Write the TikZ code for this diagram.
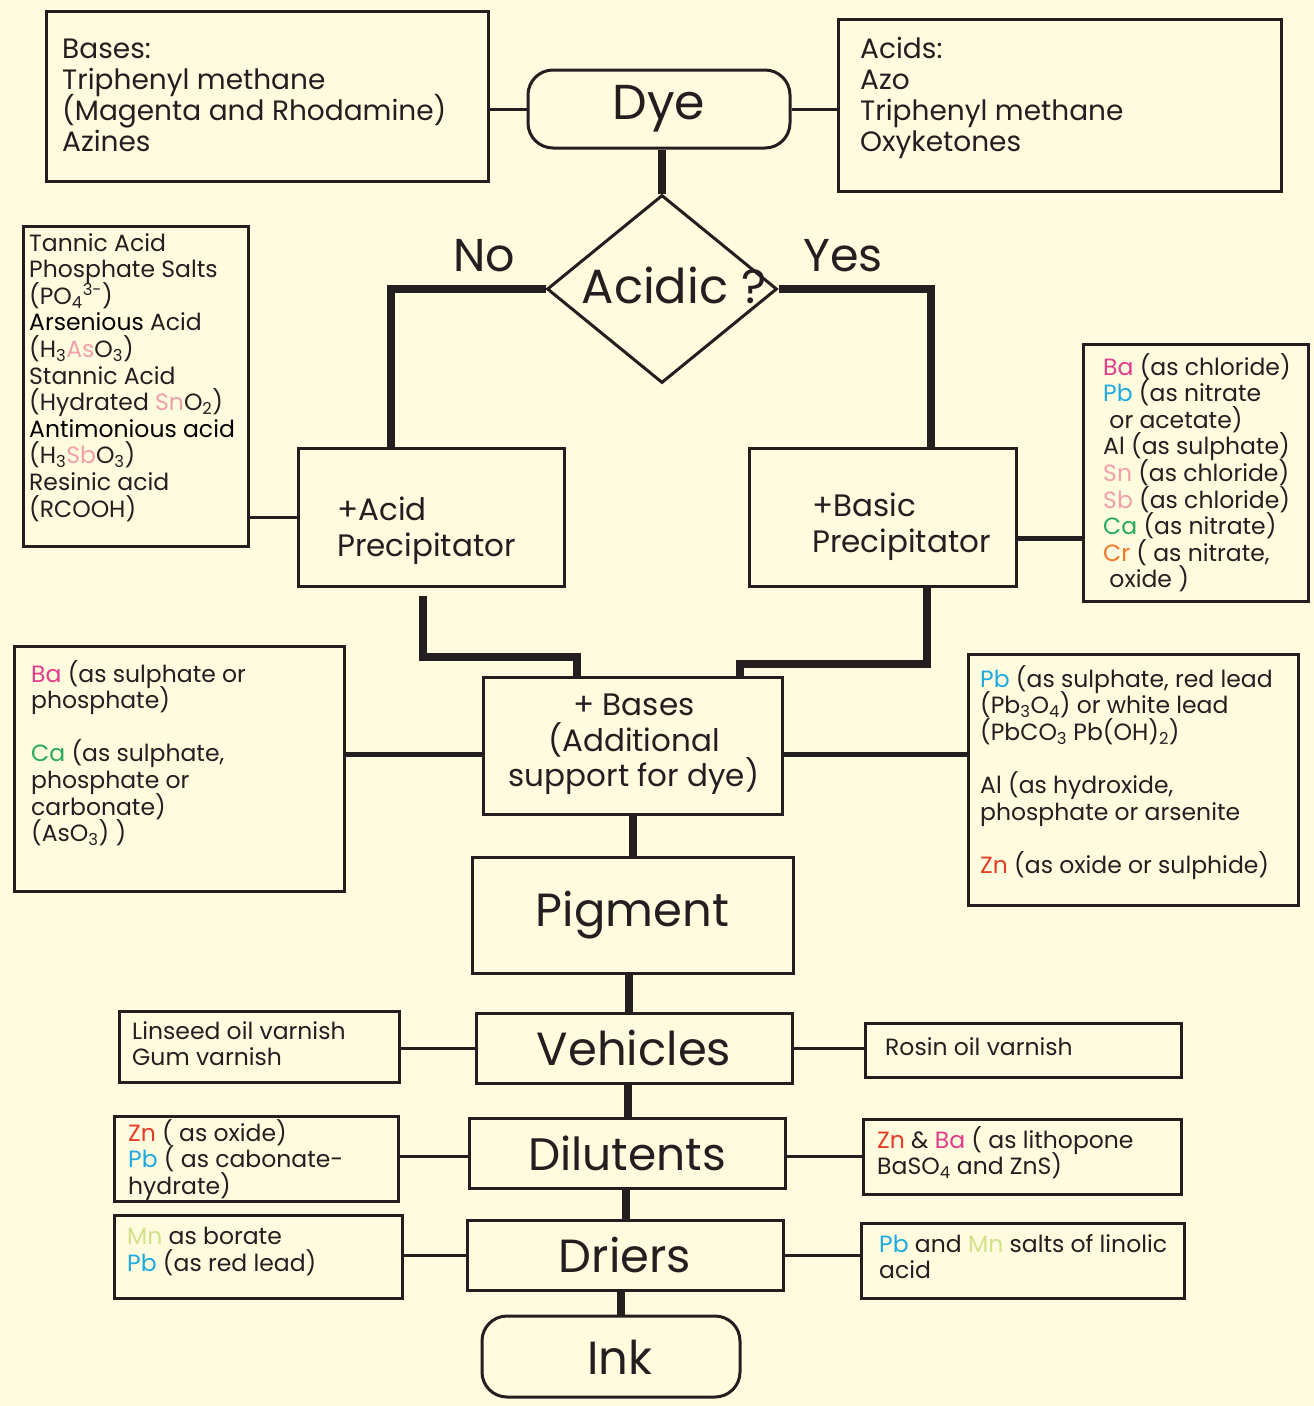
\documentclass[tikz,border=0pt]{standalone}
\usepackage{fontspec}
\setmainfont{Poppins}
\usetikzlibrary{shapes.geometric}
\definecolor{bg}{RGB}{254,251,222}
\definecolor{txt}{RGB}{35,31,32}
\definecolor{cBa}{RGB}{226,60,140}
\definecolor{cPb}{RGB}{30,170,225}
\definecolor{cSn}{RGB}{240,160,170}
\definecolor{cCa}{RGB}{40,170,90}
\definecolor{cCr}{RGB}{240,120,40}
\definecolor{cZn}{RGB}{230,60,40}
\definecolor{cMn}{RGB}{210,225,140}
\newcommand\sbs[1]{\textsubscript{#1}}
\newcommand\sps[1]{\textsuperscript{#1}}
\newcommand\cl[2]{{\color{#1}#2}}
\newcommand\mybox[5]{\node[bx, anchor=north west, minimum width={#3-#1}, minimum height={#4-#2}] (#5) at (#1,#2) {};}
\lineskiplimit=-100pt
\begin{document}
\begin{tikzpicture}[x=1pt,y=-1pt,
  bx/.style={draw=txt, line width=3pt, rectangle, inner sep=0pt},
  lt/.style={text=txt, align=left, inner sep=0pt, font=\fontsize{23.5}{26.6}\selectfont},
  ltop/.style={lt, font=\fontsize{28}{31}\selectfont},
  mid/.style={text=txt, inner sep=0pt, font=\fontsize{31}{35.5}\selectfont},
  big/.style={bx, text=txt, font=\fontsize{46.5}{46.5}\selectfont},
  cthin/.style={draw=txt, line width=3pt},
  cmid/.style={draw=txt, line width=5pt},
  cthick/.style={draw=txt, line width=8pt},
  lbl/.style={text=txt, inner sep=0pt, font=\fontsize{46}{46}\selectfont}]
\useasboundingbox[fill=bg] (0,0) rectangle (1314,1406);

% top row
\mybox{45}{10}{487}{180}{basesbox}
\node[ltop, anchor=north west] (basestxt) at (62,39) {Bases:\\Triphenyl methane\\(Magenta and Rhodamine)\\Azines};
\node[big, rounded corners=25pt, minimum width=262, minimum height=78, font=\fontsize{49}{49}\selectfont] (dye) at (659,109) {Dye};
\mybox{837}{18}{1280}{190}{acidsbox}
\node[ltop, anchor=north west] (acidstxt) at (860,37) {Acids:\\Azo\\Triphenyl methane\\Oxyketones};
\draw[cthin] (dye.west) -- (dye.west -| basesbox.east);
\draw[cthin] (dye.east) -- (dye.east -| acidsbox.west);

% decision
\node[draw=txt, line width=3pt, diamond, minimum width=230, minimum height=188, inner sep=0pt] (dia) at (662,289) {};
\node[lbl, font=\fontsize{48}{48}\selectfont] (diatxt) at (674,285) {Acidic ?};
\draw[cthick] (dia.north |- dye.south) -- (dia.north);
\node[lbl] (no) at (484,256) {No};
\node[lbl] (yes) at (843,256) {Yes};

% precipitators
\mybox{297}{447}{563}{585}{ap}
\node[mid, align=left, anchor=north west] (aptxt) at (337,497) {+Acid\\Precipitator};
\mybox{748}{447}{1015}{585}{bp}
\node[mid, align=left, anchor=north west] (bptxt) at (812,493) {+Basic\\Precipitator};
\coordinate (noX) at (391,289);
\coordinate (yesX) at (931,289);
\draw[cthick] (dia.west) -- (noX) -- (noX |- ap.north);
\draw[cthick] (dia.east) -- (yesX) -- (yesX |- bp.north);

% acid list
\mybox{22}{225}{247}{545}{al}
\node[lt, anchor=north west] (altxt) at (29,233) {Tannic Acid\\Phosphate Salts\\(PO\sbs{4}\sps{3-})\\\textcolor{black}{Arsenious} Acid\\(H\sbs{3}\cl{cSn}{As}O\sbs{3})\\Stannic Acid\\(Hydrated \cl{cSn}{Sn}O\sbs{2})\\\textcolor{black}{Antimonious acid}\\(H\sbs{3}\cl{cSn}{Sb}O\sbs{3})\\Resinic acid\\(RCOOH)};
\draw[cthin] (ap.west) -- (ap.west -| al.east);

% basic list
\mybox{1082}{343}{1307}{600}{bl}
\node[lt, anchor=north west] (bltxt) at (1103,353) {\cl{cBa}{Ba} (as chloride)\\\cl{cPb}{Pb} (as nitrate\\\ or acetate)\\Al (as sulphate)\\\cl{cSn}{Sn} (as chloride)\\\cl{cSn}{Sb} (as chloride)\\\cl{cCa}{Ca} (as nitrate)\\\cl{cCr}{Cr} ( as nitrate,\\\ oxide )};
\draw[cmid] ([yshift=-21pt]bp.east) -- ([yshift=-21pt]bp.east -| bl.west);

% bases
\mybox{482}{676}{781}{813}{bs}
\node[mid, align=center, anchor=north] (bstxt) at (634,694) {+ Bases\\(Additional\\support for dye)};
\coordinate (jL) at (577,657);
\coordinate (jR) at (740,664);
\draw[cthick] ([shift={(-9,8)}]ap.south) |- (jL) -- (jL |- bs.north);
\draw[cthick] ([xshift=43.5pt]bp.south) |- (jR) -- (jR |- bs.north);

\mybox{13}{645}{343}{890}{lb}
\node[lt, anchor=north west] (lbtxt) at (31,660) {\cl{cBa}{Ba} (as sulphate or\\phosphate)\\[26.6pt]\cl{cCa}{Ca} (as sulphate,\\phosphate or\\carbonate)\\(AsO\sbs{3}) )};
\mybox{967}{653}{1297}{904}{rb}
\node[lt, anchor=north west] (rbtxt) at (980,665) {\cl{cPb}{Pb} (as sulphate, red lead\\(Pb\sbs{3}O\sbs{4}) or white lead\\(PbCO\sbs{3} Pb(OH)\sbs{2})\\[26.6pt]Al (as hydroxide,\\phosphate or arsenite\\[26.6pt]\cl{cZn}{Zn} (as oxide or sulphide)};
\draw[cmid] ([yshift=-8.5pt]bs.west) -- ([yshift=-8.5pt]bs.west -| lb.east);
\draw[cmid] ([yshift=-8.5pt]bs.east) -- ([yshift=-8.5pt]bs.east -| rb.west);

% main column
\node[big, minimum width=321, minimum height=116] (pig) at (632.5,915) {Pigment};
\node[big, minimum width=316, minimum height=70] (veh) at (634,1048) {Vehicles};
\node[big, minimum width=316, minimum height=70, font=\fontsize{45.5}{45.5}\selectfont] (dil) at (627,1153) {Dilutents};
\node[big, minimum width=316, minimum height=70] (dri) at (625,1255) {Driers};
\node[bx, rounded corners=25pt, minimum width=258, minimum height=81] (ink) at (611,1356.5) {};
\node[lbl, font=\fontsize{46.5}{46.5}\selectfont] (inktxt) at (620,1357) {Ink};
\draw[cthick] (pig.north |- bs.south) -- (pig.north);
\draw[cthick] ([xshift=-4pt]pig.south) -- ([xshift=-4pt]pig.south |- veh.north);
\draw[cthick] ([xshift=-6pt]veh.south) -- ([xshift=-6pt]veh.south |- dil.north);
\draw[cthick] ([xshift=-1pt]dil.south) -- ([xshift=-1pt]dil.south |- dri.north);
\draw[cthick] ([xshift=-4pt]dri.south) -- ([xshift=-4pt]dri.south |- ink.north);

% side boxes
\mybox{118}{1010}{398}{1081}{vl}
\node[lt, anchor=north west] (vltxt) at (132,1021) {Linseed oil varnish\\Gum varnish};
\mybox{864}{1022}{1180}{1076}{vr}
\node[lt, anchor=north west] (vrtxt) at (885,1037) {Rosin oil varnish};
\draw[cthin] (veh.west) -- (veh.west -| vl.east);
\draw[cthin] (veh.east) -- (veh.east -| vr.west);

\mybox{113}{1115}{397}{1200}{dl}
\node[lt, anchor=north west] (dltxt) at (128,1119) {\cl{cZn}{Zn} ( as oxide)\\\cl{cPb}{Pb} ( as cabonate-\\hydrate)};
\mybox{862}{1118}{1180}{1193}{dr}
\node[lt, anchor=north west] (drtxt) at (877,1126) {\cl{cZn}{Zn} \& \cl{cBa}{Ba} ( as lithopone\\BaSO\sbs{4} and ZnS)};
\draw[cthin] ([yshift=-3pt]dil.west) -- ([yshift=-3pt]dil.west -| dl.east);
\draw[cthin] ([yshift=-3pt]dil.east) -- ([yshift=-3pt]dil.east -| dr.west);

\mybox{113}{1214}{401}{1297}{ml}
\node[lt, anchor=north west] (mltxt) at (127,1227) {\cl{cMn}{Mn} as borate\\\cl{cPb}{Pb} (as red lead)};
\mybox{860}{1222}{1183}{1297}{mr}
\node[lt, anchor=north west] (mrtxt) at (879,1234) {\cl{cPb}{Pb} and \cl{cMn}{Mn} salts of linolic\\acid};
\draw[cthin] (dri.west) -- (dri.west -| ml.east);
\draw[cthin] (dri.east) -- (dri.east -| mr.west);
\end{tikzpicture}
\end{document}
